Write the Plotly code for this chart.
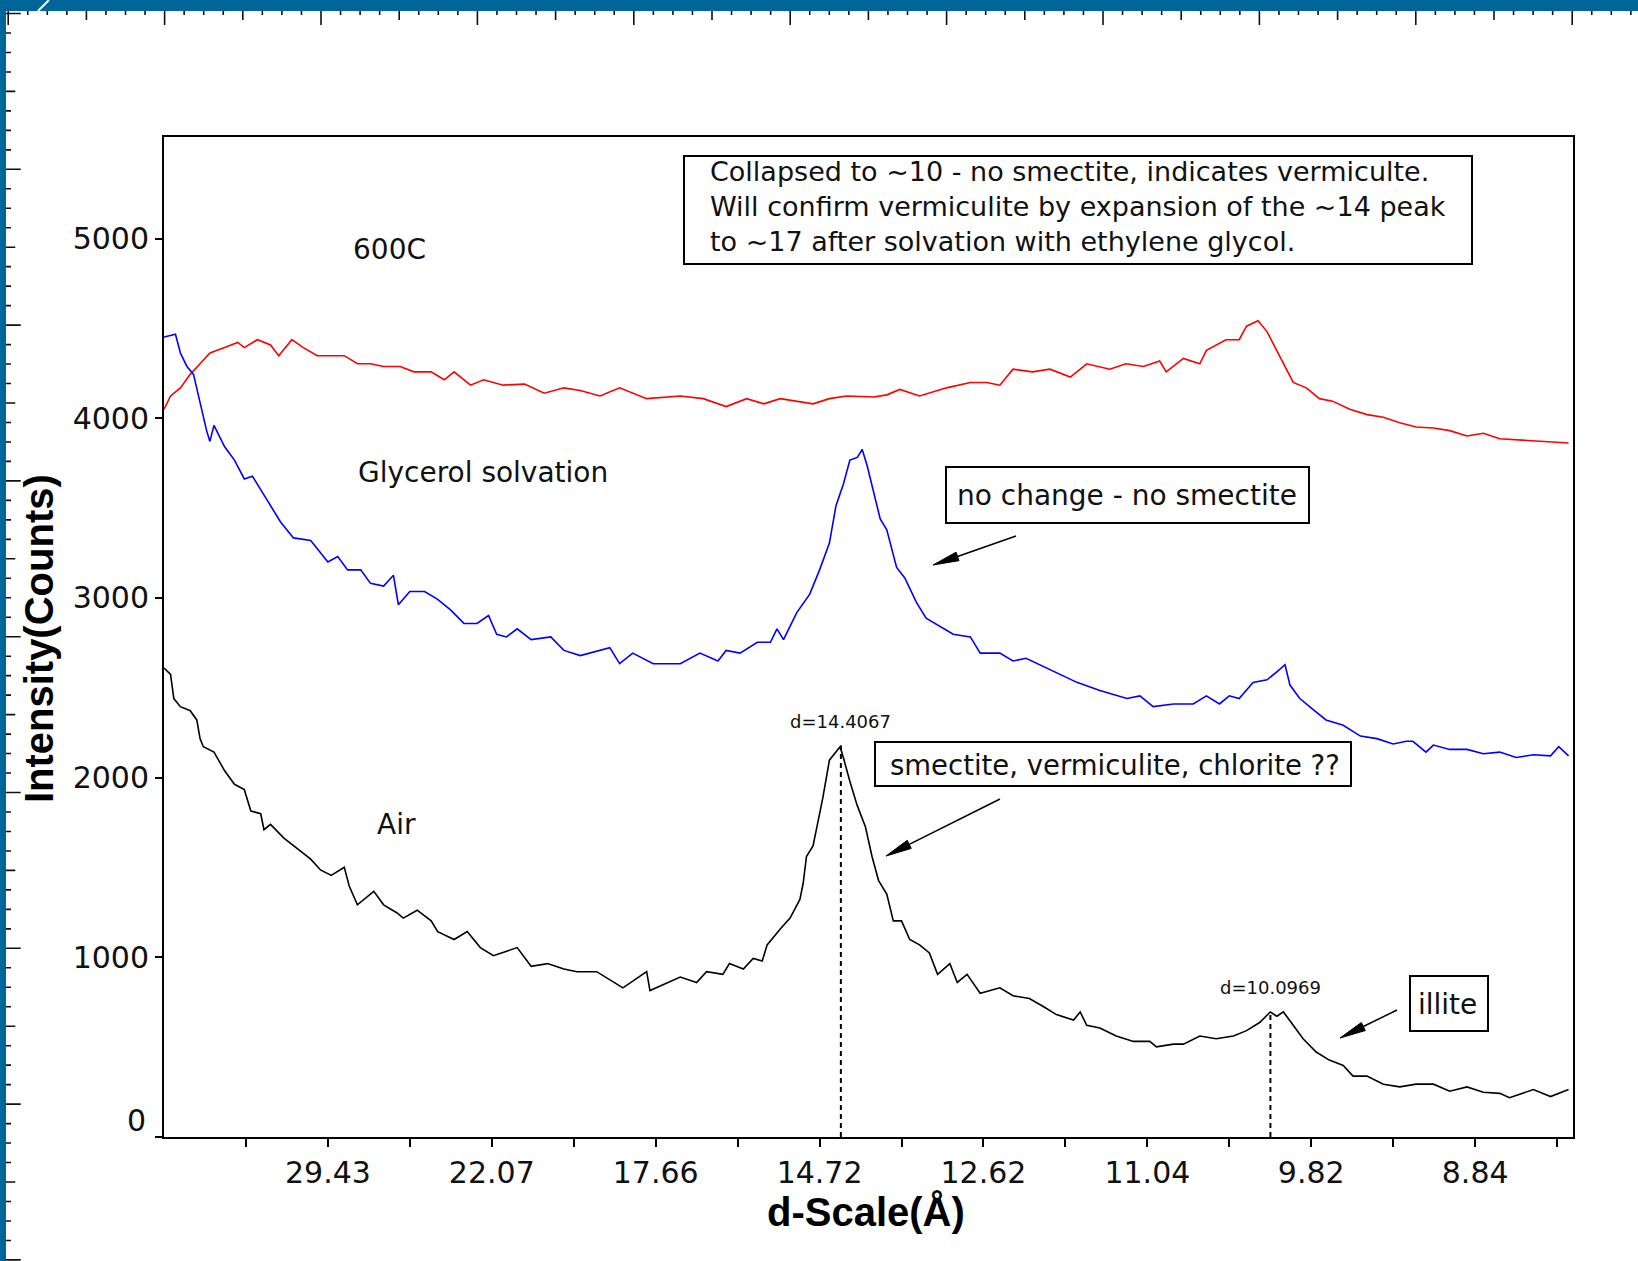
import math
import plotly.graph_objects as go

# ---------------- data ----------------
# x values are diffraction angle 2-theta (deg, Cu K-alpha); axis is labelled in d-spacing
air_2theta = [2.00, 2.04, 2.06, 2.10, 2.16, 2.20, 2.22, 2.24, 2.305, 2.37, 2.43, 2.49, 2.53, 2.59, 2.61,
              2.65, 2.73, 2.81, 2.895, 2.955, 3.02, 3.10, 3.13, 3.18, 3.28, 3.34, 3.42, 3.46, 3.545, 3.63,
              3.67, 3.77, 3.85, 3.93, 4.01, 4.155, 4.24, 4.34, 4.44, 4.52, 4.64, 4.80, 4.945, 4.965, 5.07,
              5.15, 5.25, 5.31, 5.41, 5.45, 5.535, 5.595, 5.65, 5.68, 5.76, 5.82, 5.88, 5.90, 5.92, 5.96,
              5.99, 6.02, 6.06, 6.10, 6.125, 6.145, 6.185, 6.23, 6.28, 6.32, 6.36, 6.41, 6.45, 6.50, 6.55,
              6.61, 6.67, 6.72, 6.795, 6.84, 6.90, 6.98, 7.10, 7.18, 7.28, 7.365, 7.445, 7.55, 7.59, 7.63,
              7.71, 7.81, 7.915, 8.015, 8.055, 8.16, 8.22, 8.32, 8.42, 8.525, 8.605, 8.685, 8.75, 8.79,
              8.83, 8.89, 8.95, 9.03, 9.11, 9.195, 9.255, 9.34, 9.44, 9.54, 9.64, 9.745, 9.845, 9.95,
              10.05, 10.15, 10.21, 10.355, 10.46, 10.57]
air_counts = [2610, 2574, 2440, 2395, 2372, 2321, 2217, 2172, 2142, 2038, 1963, 1933, 1814, 1799, 1710,
              1740, 1665, 1605, 1546, 1486, 1456, 1501, 1397, 1292, 1367, 1292, 1248, 1218, 1262, 1203,
              1143, 1099, 1143, 1054, 1009, 1054, 950, 965, 935, 920, 920, 830, 920, 815, 860,
              890, 860, 920, 905, 965, 935, 994, 979, 1069, 1158, 1218, 1322, 1412, 1561, 1620,
              1754, 1889, 2097, 2142, 2172, 2112, 1978, 1844, 1725, 1561, 1427, 1352, 1203, 1203, 1099,
              1069, 1024, 905, 965, 860, 905, 800, 830, 786, 771, 726, 681, 651, 696, 622,
              607, 562, 532, 532, 502, 517, 517, 562, 547, 562, 592, 637, 696, 672,
              696, 622, 547, 473, 428, 398, 339, 339, 294, 279, 294, 294, 255, 279,
              249, 243, 219, 264, 225, 264]

glycerol_2theta = [2.00, 2.07, 2.10, 2.14, 2.18, 2.22, 2.26, 2.28, 2.305, 2.37, 2.43, 2.49, 2.54, 2.59, 2.63,
                   2.71, 2.79, 2.895, 3.00, 3.06, 3.12, 3.20, 3.26, 3.34, 3.40, 3.43, 3.50, 3.59, 3.67, 3.75,
                   3.83, 3.91, 3.98, 4.03, 4.09, 4.155, 4.24, 4.36, 4.44, 4.54, 4.72, 4.78, 4.86, 4.985, 5.15,
                   5.27, 5.38, 5.43, 5.515, 5.62, 5.70, 5.74, 5.78, 5.86, 5.94, 6.00, 6.06, 6.10, 6.145, 6.185,
                   6.23, 6.26, 6.29, 6.33, 6.37, 6.41, 6.47, 6.52, 6.59, 6.65, 6.735, 6.815, 6.92, 6.98, 7.10,
                   7.18, 7.26, 7.365, 7.465, 7.57, 7.71, 7.875, 7.955, 8.035, 8.16, 8.28, 8.36, 8.44, 8.50,
                   8.56, 8.645, 8.73, 8.79, 8.84, 8.87, 8.93, 9.01, 9.09, 9.195, 9.30, 9.40, 9.50, 9.58,
                   9.62, 9.70, 9.745, 9.845, 9.95, 10.05, 10.15, 10.25, 10.355, 10.46, 10.51, 10.57]
glycerol_counts = [4452, 4467, 4363, 4288, 4244, 4080, 3931, 3871, 3960, 3841, 3767, 3662, 3677, 3603, 3543,
                   3424, 3334, 3320, 3200, 3230, 3156, 3156, 3081, 3066, 3126, 2962, 3036, 3036, 2992, 2932,
                   2858, 2858, 2902, 2798, 2783, 2828, 2768, 2783, 2708, 2679, 2723, 2634, 2693, 2634, 2634,
                   2693, 2649, 2708, 2693, 2753, 2753, 2828, 2768, 2917, 3021, 3156, 3305, 3513, 3633, 3767,
                   3782, 3826, 3737, 3588, 3439, 3379, 3170, 3111, 2977, 2887, 2843, 2798, 2783, 2693, 2693,
                   2649, 2664, 2619, 2574, 2530, 2485, 2440, 2455, 2395, 2410, 2410, 2455, 2410, 2455,
                   2440, 2530, 2544, 2589, 2628, 2515, 2440, 2380, 2321, 2291, 2231, 2217, 2187, 2202,
                   2202, 2142, 2181, 2157, 2157, 2133, 2142, 2112, 2127, 2121, 2172, 2121]

heated_2theta = [2.00, 2.04, 2.10, 2.16, 2.22, 2.28, 2.37, 2.45, 2.49, 2.57, 2.65, 2.70, 2.78, 2.85, 2.935,
                 3.02, 3.10, 3.18, 3.26, 3.34, 3.44, 3.525, 3.63, 3.71, 3.77, 3.87, 3.95, 4.07, 4.20, 4.32,
                 4.44, 4.54, 4.66, 4.78, 4.945, 5.15, 5.29, 5.43, 5.555, 5.66, 5.76, 5.96, 6.06, 6.165, 6.33,
                 6.41, 6.49, 6.61, 6.775, 6.92, 7.02, 7.10, 7.18, 7.30, 7.405, 7.53, 7.63, 7.77, 7.87, 7.975,
                 8.075, 8.115, 8.22, 8.32, 8.36, 8.48, 8.56, 8.605, 8.675, 8.73, 8.79, 8.85, 8.89, 8.97, 9.05,
                 9.13, 9.235, 9.34, 9.44, 9.54, 9.64, 9.745, 9.845, 9.95, 10.05, 10.15, 10.25, 10.355, 10.46,
                 10.57]
heated_counts = [4050, 4124, 4169, 4244, 4303, 4363, 4393, 4422, 4393, 4437, 4408, 4348, 4437, 4393, 4348,
                 4348, 4348, 4303, 4303, 4288, 4288, 4258, 4258, 4214, 4258, 4184, 4214, 4184, 4190, 4139,
                 4169, 4154, 4124, 4169, 4109, 4124, 4109, 4065, 4109, 4080, 4109, 4080, 4109, 4124, 4118,
                 4130, 4160, 4124, 4169, 4199, 4199, 4184, 4273, 4258, 4273, 4229, 4303, 4273, 4303, 4288,
                 4318, 4258, 4333, 4303, 4378, 4437, 4437, 4512, 4542, 4482, 4378, 4273, 4199, 4169, 4109,
                 4095, 4050, 4020, 4005, 3975, 3951, 3946, 3931, 3901, 3916, 3886, 3880, 3877, 3871,
                 3862]

tick_2theta = [3, 4, 5, 6, 7, 8, 9, 10]
tick_d_labels = ["29.43", "22.07", "17.66", "14.72", "12.62", "11.04", "9.82", "8.84"]
minor_2theta = [2.5, 3.5, 4.5, 5.5, 6.5, 7.5, 8.5, 9.5, 10.5]
y_ticks = [0, 1000, 2000, 3000, 4000, 5000]

peak_d = [14.4067, 10.0969]
peak_top = [2180, 700]
WAVELENGTH = 1.5406

X_RANGE = [2.0, 10.597]
Y_RANGE = [0, 5565]

# ---------------- geometry helpers (page pixels -> paper) ----------------
W, H = 1638, 1261
L, R, T, B = 164, 1573, 137, 1137


def xp(px):
    return (px - L) / (R - L)


def yp(py):
    return (B - py) / (B - T)


def d_to_2theta(d):
    return 2 * math.degrees(math.asin(WAVELENGTH / (2 * d)))


FONT = "DejaVu Sans"
TXT = "#111111"

fig = go.Figure()
fig.add_trace(go.Scatter(x=heated_2theta, y=heated_counts, mode="lines", name="600C",
                         line=dict(color="#ff0000", width=1.6)))
fig.add_trace(go.Scatter(x=glycerol_2theta, y=glycerol_counts, mode="lines", name="Glycerol solvation",
                         line=dict(color="#0000ff", width=1.6)))
fig.add_trace(go.Scatter(x=air_2theta, y=air_counts, mode="lines", name="Air",
                         line=dict(color="#000000", width=1.6)))

annotations = []
for d, top in zip(peak_d, peak_top):
    tt = d_to_2theta(d)
    fig.add_trace(go.Scatter(x=[tt, tt], y=[0, top], mode="lines",
                             line=dict(color="#000000", width=2, dash="5px,4px"),
                             hoverinfo="skip"))
    annotations.append(dict(x=tt, y=top, xref="x", yref="y", text="d=%.4f" % d, showarrow=False,
                            yshift=24, font=dict(family=FONT, size=18, color=TXT)))

all_ticks = sorted(tick_2theta + minor_2theta)
all_text = [tick_d_labels[tick_2theta.index(v)] if v in tick_2theta else "" for v in all_ticks]

shapes = []
# blue window frame with ruler
BLUE = "#006699"
shapes.append(dict(type="rect", xref="paper", yref="paper", x0=xp(0), x1=xp(W), y0=yp(0), y1=yp(11),
                   fillcolor=BLUE, line=dict(width=0), layer="above"))
shapes.append(dict(type="rect", xref="paper", yref="paper", x0=xp(0), x1=xp(6), y0=yp(0), y1=yp(H),
                   fillcolor=BLUE, line=dict(width=0), layer="above"))
shapes.append(dict(type="line", xref="paper", yref="paper", x0=xp(38), y0=yp(11), x1=xp(49), y1=yp(0),
                   line=dict(color="white", width=2)))

path = ""
step = 156.4 / 8
k = 0
while True:
    x = 8.2 + step * k
    if x > W:
        break
    if x > 8:
        ln = 25 if k % 8 == 0 else (20 if k % 4 == 0 else 15)
        path += "M%.5f,%.5f L%.5f,%.5f " % (xp(x), yp(11), xp(x), yp(ln))
    k += 1
shapes.append(dict(type="path", xref="paper", yref="paper", path=path, line=dict(color="#111111", width=1.6)))

path = ""
step = 155.8 / 8
k = 0
while True:
    y = 13.5 + step * k
    if y > H:
        break
    if y > 12:
        ln = 20.7 if k % 8 == 0 else (15.3 if k % 4 == 0 else 11)
        path += "M%.5f,%.5f L%.5f,%.5f " % (xp(6), yp(y), xp(ln), yp(y))
    k += 1
shapes.append(dict(type="path", xref="paper", yref="paper", path=path, line=dict(color="#111111", width=1.6)))

# annotation boxes
boxes = [(684, 156, 1472, 264), (946, 467, 1309, 523), (875, 742, 1351, 786), (1410, 976, 1488, 1031)]
for (x0, y0, x1, y1) in boxes:
    shapes.append(dict(type="rect", xref="paper", yref="paper", x0=xp(x0), x1=xp(x1), y0=yp(y0), y1=yp(y1),
                       fillcolor="white", line=dict(color="#000000", width=2), layer="above"))

# arrows (tail px, head px)
arrows = [((1016, 536), (933, 565)), ((1000, 799), (886, 856)), ((1397, 1010), (1340, 1038))]
for (tx, ty), (hx, hy) in arrows:
    dx, dy = hx - tx, hy - ty
    n = math.hypot(dx, dy)
    ux, uy = dx / n, dy / n
    hl, hw = 26, 4.5
    bx, by = hx - ux * hl, hy - uy * hl
    shapes.append(dict(type="line", xref="paper", yref="paper", x0=xp(tx), y0=yp(ty), x1=xp(bx), y1=yp(by),
                       line=dict(color="#000000", width=1.5)))
    p1 = (bx - uy * hw, by + ux * hw)
    p2 = (bx + uy * hw, by - ux * hw)
    shapes.append(dict(type="path", xref="paper", yref="paper",
                       path="M%.5f,%.5f L%.5f,%.5f L%.5f,%.5f Z" % (xp(hx), yp(hy), xp(p1[0]), yp(p1[1]),
                                                                   xp(p2[0]), yp(p2[1])),
                       fillcolor="#000000", line=dict(color="#000000", width=1)))


def txt(text, px, py, size=28, xanchor="center", align="center", **kw):
    d = dict(x=xp(px), y=yp(py), xref="paper", yref="paper", text=text, showarrow=False,
             xanchor=xanchor, yanchor="middle", align=align,
             font=dict(family=FONT, size=size, color=TXT))
    d.update(kw)
    return d


annotations += [
    txt("600C", 389.5, 249),
    txt("Glycerol solvation", 483, 473),
    txt("Air", 396, 824),
    txt("Collapsed to ~10 - no smectite, indicates vermiculte.<br>"
        "Will confirm vermiculite by expansion of the ~14 peak<br>"
        "to ~17 after solvation with ethylene glycol.", 708, 207, size=27, xanchor="left", align="left"),
    txt("no change - no smectite", 1127, 495, size=28),
    txt("smectite, vermiculite, chlorite ??", 1115, 765, size=27.5),
    txt("illite", 1447, 1004, size=28),
    txt("0", 148, 1120, size=30, xanchor="right"),
    dict(x=xp(866), y=yp(1212), xref="paper", yref="paper", text="<b>d-Scale(Å)</b>", showarrow=False,
         xanchor="center", yanchor="middle", font=dict(family="Liberation Sans", size=40, color="#000000")),
    dict(x=xp(38.6), y=yp(638.5), xref="paper", yref="paper", text="<b>Intensity(Counts)</b>", showarrow=False,
         textangle=-90, xanchor="center", yanchor="middle",
         font=dict(family="Liberation Sans", size=40, color="#000000")),
]

fig.update_layout(
    width=W, height=H,
    margin=dict(l=L, r=W - R, t=T, b=H - B, pad=0),
    paper_bgcolor="white", plot_bgcolor="white",
    showlegend=False,
    shapes=shapes,
    annotations=annotations,
    xaxis=dict(range=X_RANGE, tickmode="array", tickvals=all_ticks, ticktext=all_text,
               ticks="outside", ticklen=8, tickwidth=2, tickcolor="#000000",
               showline=True, linecolor="#000000", linewidth=2, mirror=True,
               showgrid=False, zeroline=False,
               tickfont=dict(family=FONT, size=30, color=TXT)),
    yaxis=dict(range=Y_RANGE, tickmode="array", tickvals=y_ticks,
               ticktext=["" if v == 0 else str(v) for v in y_ticks],
               ticks="outside", ticklen=7, tickwidth=2, tickcolor="#000000",
               showline=True, linecolor="#000000", linewidth=2, mirror=True,
               showgrid=False, zeroline=False,
               tickfont=dict(family=FONT, size=30, color=TXT)),
)

fig.write_html("out.html", config={"displayModeBar": False},
               post_script="document.body.style.margin='0';document.body.style.overflow='hidden';")
